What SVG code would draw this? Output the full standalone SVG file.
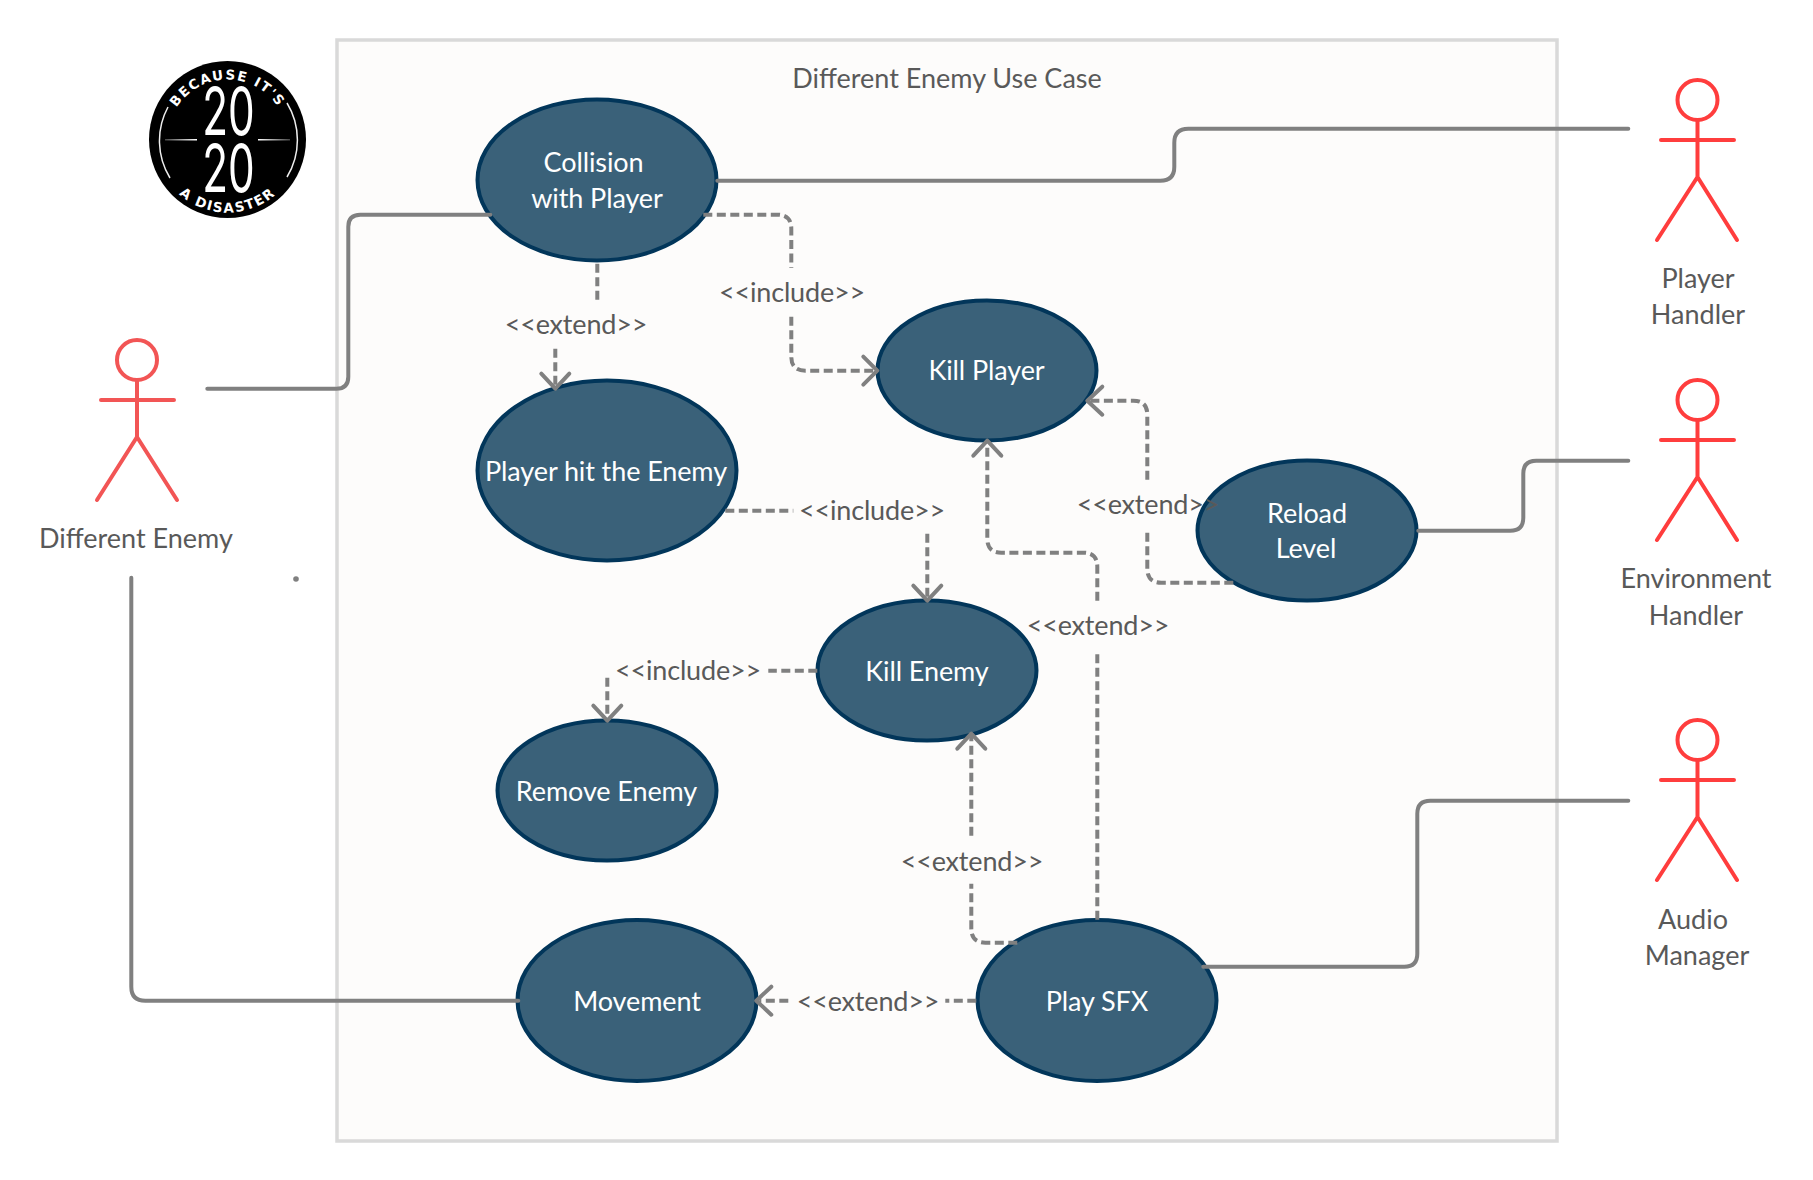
<svg xmlns="http://www.w3.org/2000/svg" width="1813" height="1180" viewBox="0 0 1813 1180">
<style>
text{font-family:Lato,"Open Sans","Liberation Sans",sans-serif;font-size:27px;text-anchor:middle}
.d{fill:#595959}
.w{fill:#fff;letter-spacing:-0.1px}
.l{fill:#595959;letter-spacing:-0.15px}
ellipse{fill:#3a6179;stroke:#02365a;stroke-width:4}
.s,.da{fill:none;stroke:#808080;stroke-width:4;stroke-linecap:round}
.da{stroke-dasharray:9 4.5;stroke-linecap:butt}
.ar{fill:none;stroke:#808080;stroke-width:4;stroke-linecap:round;stroke-linejoin:round}
.act{fill:none;stroke:#ff3d3d;stroke-width:4;stroke-linecap:round;stroke-linejoin:round}
.act2{stroke:#f25555}
.lg{fill:#fff;font-family:"DejaVu Sans",sans-serif;font-weight:700;font-size:13.500px;letter-spacing:1.6px}
.dg{fill:#fff;font-family:Inter,"Liberation Sans",sans-serif;font-weight:400;font-size:48px}
</style>
<defs>
<linearGradient id="gl"><stop offset="0" stop-color="#444"/><stop offset="1" stop-color="#fff"/></linearGradient>
<linearGradient id="gr"><stop offset="0" stop-color="#fff"/><stop offset="1" stop-color="#444"/></linearGradient>
<path id="arcT" d="M167.500 139.500A60 60 0 0 1 287.500 139.500" fill="none"/>
<path id="arcB" d="M154.500 139.500A73 73 0 0 0 300.500 139.500" fill="none"/>
</defs>
<rect width="1813" height="1180" fill="#fff"/>
<g id="frame"><rect x="337" y="40" width="1220" height="1101" fill="#fdfcfb" stroke="#d9d9d9" stroke-width="3.500"/><text class="d" x="947" y="88">Different Enemy Use Case</text></g>
<g id="logo">
<circle cx="227.500" cy="139.500" r="78.500" fill="#000"/>
<path d="M168 107A71 71 0 0 0 170 178M287 103A71 71 0 0 1 287 177" fill="none" stroke="#eee" stroke-width="1.500"/>
<rect x="165" y="139" width="32" height="1.500" fill="url(#gl)"/><rect x="258" y="139" width="32" height="1.500" fill="url(#gr)"/>
<text class="lg"><textPath href="#arcT" startOffset="50%">BECAUSE IT'S</textPath></text>
<text class="lg"><textPath href="#arcB" startOffset="50%">A DISASTER</textPath></text>
<text class="dg" transform="translate(228.500 135) scale(0.88,1.38)">20</text>
<text class="dg" transform="translate(228.500 192) scale(0.88,1.38)">20</text>
</g>
<circle id="speck" cx="296" cy="579" r="2.800" fill="#808080"/>
<g id="collision"><ellipse cx="597" cy="180" rx="119.500" ry="80.500"/><text class="w" x="593.500" y="172">Collision</text><text class="w" x="597" y="208">with Player</text></g>
<g id="player-hit"><ellipse cx="607" cy="470.500" rx="129.500" ry="90"/><text class="w" x="606" y="481">Player hit the Enemy</text></g>
<g id="kill-player"><ellipse cx="987" cy="370.500" rx="109.500" ry="70"/><text class="w" x="986.500" y="380">Kill Player</text></g>
<g id="reload"><ellipse cx="1307" cy="530.500" rx="109.500" ry="70"/><text class="w" x="1307" y="523">Reload</text><text class="w" x="1306" y="558">Level</text></g>
<g id="kill-enemy"><ellipse cx="927" cy="670.500" rx="109.500" ry="70"/><text class="w" x="927" y="681">Kill Enemy</text></g>
<g id="remove-enemy"><ellipse cx="607" cy="790.500" rx="109.500" ry="70"/><text class="w" x="606.500" y="801">Remove Enemy</text></g>
<g id="movement"><ellipse cx="637" cy="1000.500" rx="119.500" ry="80.500"/><text class="w" x="637" y="1011">Movement</text></g>
<g id="play-sfx"><ellipse cx="1097" cy="1000.500" rx="119.500" ry="80.500"/><text class="w" x="1097" y="1011">Play SFX</text></g>
<g id="connectors" transform="translate(0.300 0.700)">
<path class="s" d="M207 388H336Q348 388 348 376V226Q348 214 360 214H490"/>
<path class="s" d="M717 180H1160Q1174 180 1174 166V142Q1174 128 1188 128H1628"/>
<path class="s" d="M1418 530H1510Q1523 530 1523 517V473Q1523 460 1536 460H1628"/>
<path class="s" d="M1203 966H1404Q1417 966 1417 953V813Q1417 800 1430 800H1628"/>
<path class="s" d="M131 577V986Q131 1000 145 1000H518"/>
<path class="da" d="M703 214H777Q791 214 791 228V267"/>
<path class="da" d="M791 316V356Q791 370 805 370H875"/>
<path class="ar" d="M863 356L877 370L863 384"/>
<path class="da" d="M597 263V299"/>
<path class="da" d="M555 348V385"/>
<path class="ar" d="M541 373L555 388L569 373"/>
<path class="da" d="M725 510H793"/>
<path class="da" d="M927 533V598"/>
<path class="ar" d="M913 585L927 600L941 585"/>
<path class="da" d="M817 670H768"/>
<path class="da" d="M607 677V718"/>
<path class="ar" d="M593 705L607 720L621 705"/>
<path class="da" d="M976 1000H945"/>
<path class="da" d="M788 1000H759"/>
<path class="ar" d="M771 986L756 1000L771 1014"/>
<path class="da" d="M1017 942H985Q971 942 971 928V883"/>
<path class="da" d="M971 835V735"/>
<path class="ar" d="M957 748L971 733L985 748"/>
<path class="da" d="M1097 919V650"/>
<path class="da" d="M1097 600V566Q1097 552 1083 552H1001Q987 552 987 538V443"/>
<path class="ar" d="M973 455L987 440L1001 455"/>
<path class="da" d="M1233 582H1161Q1147 582 1147 568V528"/>
<path class="da" d="M1147 479V414Q1147 400 1133 400H1089"/>
<path class="ar" d="M1102 386L1087 400L1102 414"/>
</g>
<g id="labels">
<text class="l" x="576" y="334">&lt;&lt;extend&gt;&gt;</text>
<text class="l" x="792" y="302">&lt;&lt;include&gt;&gt;</text>
<text class="l" x="872" y="520">&lt;&lt;include&gt;&gt;</text>
<text class="l" x="688" y="680">&lt;&lt;include&gt;&gt;</text>
<text class="l" x="868" y="1011">&lt;&lt;extend&gt;&gt;</text>
<text class="l" x="972" y="871">&lt;&lt;extend&gt;&gt;</text>
<text class="l" x="1098" y="635">&lt;&lt;extend&gt;&gt;</text>
<text class="l" x="1148" y="514">&lt;&lt;extend&gt;&gt;</text>
</g>
<g id="actor-different"><circle class="act act2" cx="137" cy="360" r="20"/><path class="act act2" d="M137 380V437M101 400H174M97 500L137 437L177 500"/><text class="d" x="136" y="548">Different Enemy</text></g>
<g id="actor-player"><circle class="act" cx="1697.500" cy="100" r="20"/><path class="act" d="M1697.500 120V177M1661 140H1734M1657 240L1697.500 177L1737 240"/><text class="d" x="1698" y="288">Player</text><text class="d" x="1698" y="324">Handler</text></g>
<g id="actor-env"><circle class="act" cx="1697.500" cy="400" r="20"/><path class="act" d="M1697.500 420V477M1661 440H1734M1657 540L1697.500 477L1737 540"/><text class="d" x="1696" y="588">Environment</text><text class="d" x="1696" y="625">Handler</text></g>
<g id="actor-audio"><circle class="act" cx="1697.500" cy="740" r="20"/><path class="act" d="M1697.500 760V817M1661 780H1734M1657 880L1697.500 817L1737 880"/><text class="d" x="1693" y="929">Audio</text><text class="d" x="1697" y="965">Manager</text></g>
</svg>
